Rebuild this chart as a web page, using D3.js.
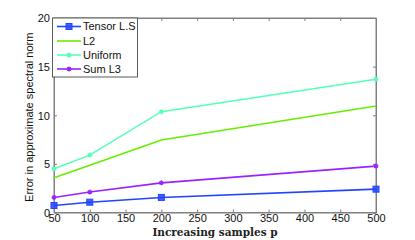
<!DOCTYPE html>
<html><head><meta charset="utf-8">
<script src="https://cdn.jsdelivr.net/npm/d3@7"></script>
<style>body{margin:0;background:#fff}svg{display:block}</style>
</head><body>
<svg id="c" width="415" height="240"></svg>
<script>
const samples = [50, 100, 200, 500];
const tensorLS = [0.72, 1.06, 1.55, 2.4];
const l2 = [3.57, 4.85, 7.45, 10.95];
const uniform = [4.5, 5.9, 10.37, 13.7];
const sumL3 = [1.55, 2.1, 3.05, 4.77];
const seriesNames = ["Tensor L.S", "L2", "Uniform", "Sum L3"];
const seriesColors = ["#2244ff", "#66ee00", "#55ffb8", "#9922ff"];
const seriesMarkers = ["square", "none", "star", "star"];
const xTicks = [50, 100, 150, 200, 250, 300, 350, 400, 450, 500];
const yTicks = [0, 5, 10, 15, 20];

const series = [tensorLS, l2, uniform, sumL3];
const svg = d3.select("#c");
const L = 54, R = 376, T = 18, B = 212.5;
const x = d3.scaleLinear().domain([50, 500]).range([L, R]);
const y = d3.scaleLinear().domain([0, 20]).range([B, T]);
const axisColor = "#808080";
const font = "Liberation Sans, Arial, sans-serif";

// box
svg.append("rect").attr("x", L).attr("y", T).attr("width", R - L).attr("height", B - T)
  .attr("fill", "none").attr("stroke", axisColor).attr("stroke-width", 1);

const tl = 3;
const gx = svg.append("g").attr("transform", `translate(0,${B})`)
  .call(d3.axisBottom(x).tickValues(xTicks).tickSize(-tl).tickPadding(4).tickFormat(d3.format("d")));
const gxt = svg.append("g").attr("transform", `translate(0,${T})`)
  .call(d3.axisTop(x).tickValues(xTicks).tickSize(-tl).tickFormat(""));
const gy = svg.append("g").attr("transform", `translate(${L},0)`)
  .call(d3.axisLeft(y).tickValues(yTicks).tickSize(-tl).tickPadding(4));
const gyr = svg.append("g").attr("transform", `translate(${R},0)`)
  .call(d3.axisRight(y).tickValues(yTicks).tickSize(-tl).tickFormat(""));
[gx, gxt, gy, gyr].forEach(g => {
  g.select(".domain").attr("stroke", axisColor);
  g.selectAll(".tick line").attr("stroke", axisColor);
  g.selectAll("text").attr("font-family", font).attr("font-size", 11).attr("fill", "#111");
});
gx.selectAll("text").attr("dy", "0.5em");
gy.selectAll("text").attr("dy", "0.35em");

const line = d3.line().x((d, i) => x(samples[i])).y(d => y(d));

function drawMarker(g, type, cx, cy, color) {
  if (type === "square") {
    g.append("rect").attr("x", cx - 3).attr("y", cy - 3).attr("width", 6).attr("height", 6)
      .attr("fill", color).attr("fill-opacity", 0.85).attr("stroke", color);
  } else if (type === "star") {
    const s = 2.5;
    g.append("path").attr("d", `M${cx - s},${cy}H${cx + s}M${cx},${cy - s}V${cy + s}M${cx - s*0.7},${cy - s*0.7}L${cx + s*0.7},${cy + s*0.7}M${cx - s*0.7},${cy + s*0.7}L${cx + s*0.7},${cy - s*0.7}`)
      .attr("stroke", color).attr("stroke-width", 1.2);
  }
}

series.forEach((vals, k) => {
  const g = svg.append("g");
  g.append("path").datum(vals).attr("d", line).attr("fill", "none")
    .attr("stroke", seriesColors[k]).attr("stroke-width", 1.6);
  vals.forEach((v, i) => drawMarker(g, seriesMarkers[k], x(samples[i]), y(v), seriesColors[k]));
});

// legend
const lg = svg.append("g");
lg.append("rect").attr("x", 52.5).attr("y", T).attr("width", 85).attr("height", 59)
  .attr("fill", "#fff").attr("stroke", "#333").attr("stroke-width", 0.8);
const ly = [26.5, 41, 55, 69];
seriesNames.forEach((n, k) => {
  lg.append("line").attr("x1", 57).attr("x2", 81).attr("y1", ly[k]).attr("y2", ly[k])
    .attr("stroke", seriesColors[k]).attr("stroke-width", 1.6);
  drawMarker(lg, seriesMarkers[k], 69, ly[k], seriesColors[k]);
  lg.append("text").attr("x", 83).attr("y", ly[k]).attr("dy", "0.36em")
    .attr("font-family", font).attr("font-size", 11).attr("fill", "#111").text(n);
});

svg.append("text").attr("x", (L + R) / 2).attr("y", 236).attr("text-anchor", "middle")
  .attr("font-family", "DejaVu Serif, Liberation Serif, serif").attr("font-weight", "bold")
  .attr("font-size", 10.5).attr("fill", "#222").text("Increasing samples p");
svg.append("text").attr("transform", `translate(33,${(T + B) / 2 + 2}) rotate(-90)`)
  .attr("text-anchor", "middle").attr("font-family", font).attr("font-size", 11)
  .attr("fill", "#111").text("Error in approximate spectral norm");
</script>
</body></html>
